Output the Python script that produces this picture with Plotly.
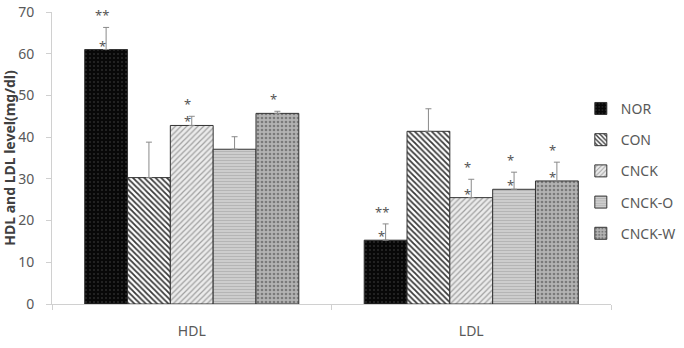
import plotly.graph_objects as go

categories = ["HDL", "LDL"]
groups = ["NOR", "CON", "CNCK", "CNCK-O", "CNCK-W"]
values = {
    "NOR": [61.0, 15.3],
    "CON": [30.3, 41.4],
    "CNCK": [42.8, 25.5],
    "CNCK-O": [37.1, 27.5],
    "CNCK-W": [45.7, 29.5],
}
errors = {
    "NOR": [5.3, 3.9],
    "CON": [8.5, 5.4],
    "CNCK": [2.2, 4.4],
    "CNCK-O": [3.0, 4.1],
    "CNCK-W": [0.5, 4.5],
}
# significance marks: (group, category, mark above error bar, mark at bar top)
sig_marks = [
    ("NOR", "HDL", "**", "*"),
    ("CNCK", "HDL", "*", "*"),
    ("CNCK-W", "HDL", "*", ""),
    ("NOR", "LDL", "**", "*"),
    ("CNCK", "LDL", "*", "*"),
    ("CNCK-O", "LDL", "*", "*"),
    ("CNCK-W", "LDL", "*", "*"),
]
y_ticks = [0, 10, 20, 30, 40, 50, 60, 70]

styles = {
    "NOR": dict(bg="#080808", fg="#2a2a2a", shape=".", size=4, sol=0.2),
    "CON": dict(bg="#ffffff", fg="#3a3a3a", shape="\\", size=4, sol=0.45),
    "CNCK": dict(bg="#ebebeb", fg="#a0a0a0", shape="/", size=4, sol=0.3),
    "CNCK-O": dict(bg="#cdcdcd", fg="#b2b2b2", shape="-", size=3, sol=0.3),
    "CNCK-W": dict(bg="#b3b3b3", fg="#7a7a7a", shape=".", size=4, sol=0.35),
}

FONT = "Noto Sans"
fig = go.Figure()
for i, g in enumerate(groups):
    s = styles[g]
    fig.add_trace(go.Bar(
        name=g, x=categories, y=values[g],
        legendgroup=g,
        marker=dict(
            color=s["bg"],
            line=dict(color="#333333", width=1),
            pattern=dict(shape=s["shape"], fgcolor=s["fg"], bgcolor=s["bg"],
                         size=s["size"], solidity=s["sol"], fillmode="replace"),
        ),
        error_y=dict(type="data", symmetric=False, array=errors[g],
                     arrayminus=[0, 0], color="#8a8a8a", thickness=1, width=3),
    ))

plot_l, plot_r = 52, 611
cat_px = (plot_r - plot_l) / len(categories)
bargap = 0.234
bar_px = cat_px * (1 - bargap) / len(groups)

annotations = []
for g, cat, top, low in sig_marks:
    gi = groups.index(g)
    ci = categories.index(cat)
    xs = (gi - (len(groups) - 1) / 2) * bar_px - 4
    v = values[g][ci]
    e = errors[g][ci]
    if top:
        annotations.append(dict(x=cat, y=v + e, xref="x", yref="y", text=top,
                                showarrow=False, xshift=xs, yshift=12,
                                font=dict(family=FONT, size=13, color="#555555")))
    if low:
        annotations.append(dict(x=cat, y=v, xref="x", yref="y", text=low,
                                showarrow=False, xshift=xs, yshift=4,
                                font=dict(family=FONT, size=13, color="#555555")))

fig.update_layout(
    width=684, height=348,
    margin=dict(l=plot_l, r=684 - plot_r, t=12, b=44, autoexpand=False),
    paper_bgcolor="white", plot_bgcolor="white",
    barmode="group", bargap=bargap, bargroupgap=0,
    font=dict(family=FONT, size=14, color="#595959"),
    showlegend=True,
    legend=dict(x=0.946, y=0.723, xanchor="left", yanchor="top",
                font=dict(family=FONT, size=14, color="#595959"),
                tracegroupgap=10, itemwidth=30, bgcolor="rgba(0,0,0,0)"),
    annotations=annotations,
    xaxis=dict(showline=True, linecolor="#d0d0d0", linewidth=1, automargin=False,
               ticks="outside", tickson="boundaries", ticklen=5, tickcolor="#d0d0d0",
               ticklabelstandoff=14,
               tickfont=dict(family=FONT, size=14, color="#595959"),
               showgrid=False),
    yaxis=dict(range=[0, 70], tickvals=y_ticks, showline=True, linecolor="#d0d0d0",
               linewidth=1, ticks="outside", ticklen=5, tickcolor="#d0d0d0",
               showgrid=False, zeroline=False, automargin=False,
               ticklabelstandoff=9,
               tickfont=dict(family=FONT, size=14, color="#595959"),
               title=dict(text="<b>HDL and LDL level(mg/dl)</b>", standoff=2,
                          font=dict(family=FONT, size=14, color="#404040"))),
)

fig.write_html("out.html")
